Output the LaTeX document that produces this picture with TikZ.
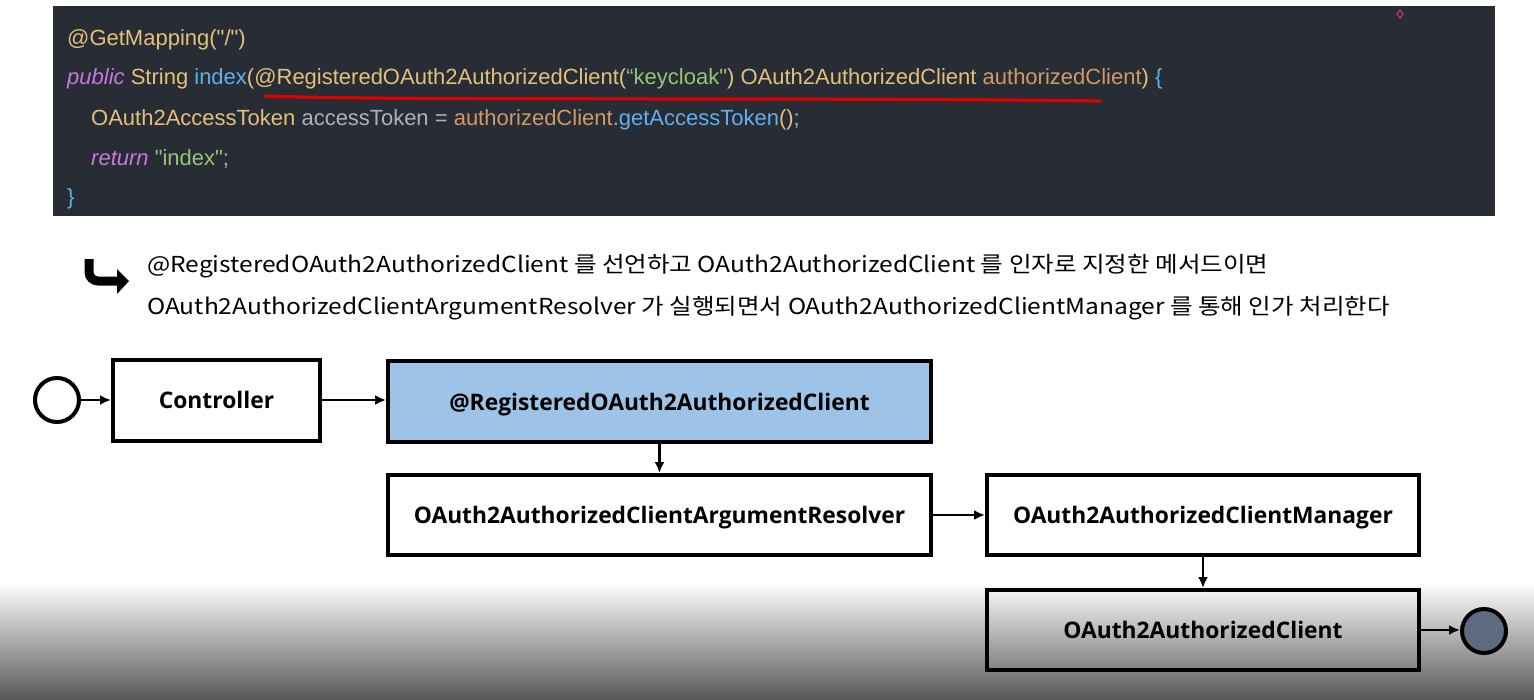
\documentclass[tikz,border=0pt]{standalone}
\usepackage{fontspec}
\setmainfont{Liberation Sans}
\newfontfamily\codefont{Liberation Sans}
\newfontfamily\kr{Noto Sans CJK KR}[FakeStretch=1.115]
\newfontfamily\lab{Open Sans}
\usetikzlibrary{arrows.meta,calc}
\definecolor{panel}{RGB}{40,44,52}
\definecolor{ctan}{RGB}{229,192,123}
\definecolor{cbrown}{RGB}{209,154,102}
\definecolor{cblue}{RGB}{97,175,239}
\definecolor{cmag}{RGB}{198,120,221}
\definecolor{cgreen}{RGB}{152,195,121}
\definecolor{cgray}{RGB}{171,178,191}
\definecolor{boxblue}{RGB}{157,195,230}
\definecolor{endfill}{RGB}{95,106,128}
\definecolor{ink}{RGB}{225,0,0}
\begin{document}
\begin{tikzpicture}[x=1pt,y=-1pt,
  code/.style={anchor=base west,inner sep=0pt,font=\codefont\fontsize{22}{26}\selectfont},
  krtext/.style={anchor=base west,inner sep=0pt,font=\kr\fontsize{22}{26}\selectfont,text=black},
  box/.style={draw=black,line width=4pt,inner sep=0pt,text depth=0pt,font=\lab\bfseries\fontsize{22.8}{26}\selectfont},
  flow/.style={line width=2.2pt,-{Latex[length=11pt,width=10pt]}},
  state/.style={circle,draw=black,line width=4pt,minimum size=44pt,inner sep=0pt}]
\useasboundingbox (0,0) rectangle (1534,699);
\fill[white] (0,0) rectangle (1534,699);
\shade[top color=white,bottom color={rgb,255:red,88;green,88;blue,88}] (0,582) rectangle (1534,699);
% code panel
\fill[panel] (53,6) rectangle (1495,216);
\draw[draw={rgb,255:red,200;green,50;blue,120},line width=1.2pt] (1400,10) -- (1403,14) -- (1400,18) -- (1397,14) -- cycle;
\node[code] (l1) at (67,45) {\textcolor{ctan}{@GetMapping("/")}};
\node[code] (l2) at (67,84) {\textcolor{cmag}{\itshape public} \textcolor{ctan}{String} \textcolor{cblue}{index}\textcolor{ctan}{(@RegisteredOAuth2AuthorizedClient(}\textcolor{cgreen}{“keycloak"}\textcolor{ctan}{) OAuth2AuthorizedClient} \textcolor{cbrown}{authorizedClient}\textcolor{ctan}{)} \textcolor{cblue}{\{}};
\node[code] (l3) at (91,125) {\textcolor{ctan}{OAuth2AccessToken} \textcolor{cgray}{accessToken =} \textcolor{cbrown}{authorizedClient}\textcolor{cgray}{.}\textcolor{cblue}{getAccessToken}\textcolor{ctan}{()}\textcolor{cgray}{;}};
\node[code] (l4) at (91,165) {\textcolor{cmag}{\itshape return} \textcolor{cgreen}{"index"}\textcolor{cgray}{;}};
\node[code] (l5) at (67,204) {\textcolor{cblue}{\}}};
\draw[ink,line width=3.2pt,line cap=round] (265,96) .. controls (400,101) and (800,97) .. (1100,101);
% hook arrow
\draw[line width=9pt,rounded corners=9pt] (89,259) -- (89,281) -- (119,281);
\fill (117,269) -- (129,281) -- (117,294) -- cycle;
% explanation
\node[krtext] (t1) at (147,272) {@RegisteredOAuth2AuthorizedClient 를 선언하고 OAuth2AuthorizedClient 를 인자로 지정한 메서드이면};
\node[krtext] (t2) at (147,314) {OAuth2AuthorizedClientArgumentResolver 가 실행되면서 OAuth2AuthorizedClientManager 를 통해 인가 처리한다};
% diagram
\node[state,fill=white] (start) at (57,400) {};
\node[box,fill=white,minimum width=207pt,minimum height=81pt] (ctrl) at (216.5,400) {Controller};
\node[box,fill=boxblue,minimum width=543pt,minimum height=81pt] (reg) at (659.5,401.5) {@RegisteredOAuth2AuthorizedClient};
\node[box,fill=white,minimum width=543pt,minimum height=80pt] (res) at (659.5,515) {OAuth2AuthorizedClientArgumentResolver};
\node[box,fill=white,minimum width=432pt,minimum height=80pt] (mgr) at (1203,515) {OAuth2AuthorizedClientManager};
\node[box,minimum width=432pt,minimum height=80pt] (cli) at (1203,630) {OAuth2AuthorizedClient};
\node[state,fill=endfill] (end) at (1484,631) {};
\draw[flow] (start.east) -- (start.east -| ctrl.west);
\draw[flow] (ctrl.east) -- (ctrl.east -| reg.west);
\draw[flow] (reg.south) -- (reg.south |- res.north);
\draw[flow] (res.east) -- (mgr.west);
\draw[flow] (mgr.south) -- (cli.north);
\draw[flow] (cli.east) -- (cli.east -| end.west);
\end{tikzpicture}
\end{document}
